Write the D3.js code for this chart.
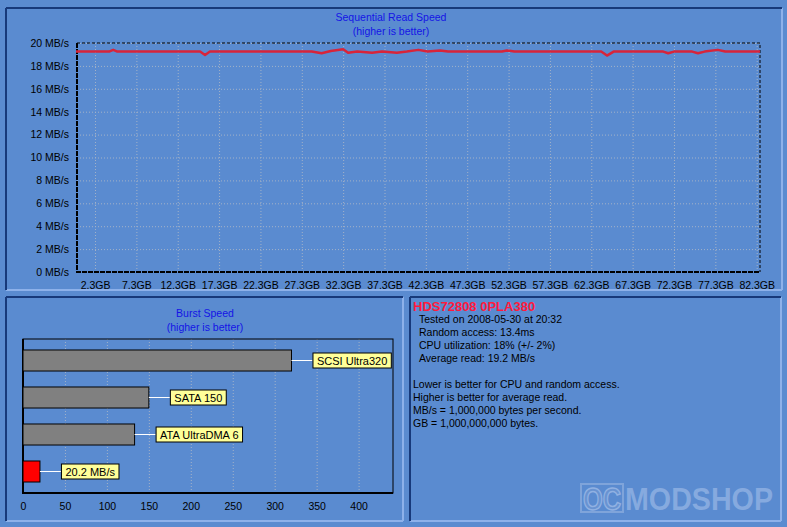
<!DOCTYPE html>
<html>
<head>
<meta charset="utf-8">
<script src="https://cdn.jsdelivr.net/npm/d3@7"></script>
<style>
  body { margin: 0; background: #5a8bd0; }
  svg { display: block; }
  text { font-family: "Liberation Sans", Arial, sans-serif; }
</style>
</head>
<body>
<div id="chart"></div>
<script>
// sequential read samples, position on disk (GB) and speed (MB/s)
const readGB = [0, 2, 4, 4.5, 5, 8, 12, 15, 15.6, 16.2, 20, 25, 28.5, 29.7, 30.8, 32.3, 32.9, 34, 35.8, 37, 38.8, 40, 41.4, 42.5, 44, 45, 50, 51.5, 52.1, 53, 58, 63.5, 64.2, 65, 68, 71, 71.6, 72.3, 74.5, 75.2, 76, 77.6, 78.5, 82.7]
const readMBs = [19.25, 19.25, 19.25, 19.4, 19.25, 19.25, 19.25, 19.25, 18.95, 19.25, 19.25, 19.25, 19.25, 19.1, 19.3, 19.45, 19.15, 19.25, 19.15, 19.25, 19.15, 19.25, 19.4, 19.25, 19.35, 19.25, 19.25, 19.25, 19.35, 19.25, 19.25, 19.25, 18.9, 19.25, 19.25, 19.25, 19.1, 19.25, 19.25, 19.1, 19.25, 19.4, 19.25, 19.25]
const readTicksGB = [2.3, 7.3, 12.3, 17.3, 22.3, 27.3, 32.3, 37.3, 42.3, 47.3, 52.3, 57.3, 62.3, 67.3, 72.3, 77.3, 82.3]
const readTicksMBs = [0, 2, 4, 6, 8, 10, 12, 14, 16, 18, 20]

// burst speed comparison
const burstLabels = ["SCSI Ultra320", "SATA 150", "ATA UltraDMA 6", "20.2 MB/s"]
const burstValues = [320, 150, 133, 20.2]
const burstColors = ["#808080", "#808080", "#808080", "#ff0000"]
const burstTicks = [0, 50, 100, 150, 200, 250, 300, 350, 400]

const infoTitle = "HDS72808 0PLA380"
const infoLines = [
  "Tested on 2008-05-30 at 20:32",
  "Random access: 13.4ms",
  "CPU utilization: 18% (+/- 2%)",
  "Average read: 19.2 MB/s"
]
const noteLines = [
  "Lower is better for CPU and random access.",
  "Higher is better for average read.",
  "MB/s = 1,000,000 bytes per second.",
  "GB = 1,000,000,000 bytes."
]

const width = 787
const height = 527
const fontSize = 10.5
const dark = "#17397a"
const light = "#8db1ea"
const titleBlue = "#1414e6"
const gridColor = "#a3b2c8"

const svg = d3.select("#chart").append("svg")
  .attr("width", width)
  .attr("height", height)

svg.append("rect").attr("width", width).attr("height", height).attr("fill", "#5a8bd0")

function panel(x, y, w, h) {
  const g = svg.append("g")
  g.append("line").attr("x1", x).attr("x2", x + w).attr("y1", y + h).attr("y2", y + h).attr("stroke", light).attr("stroke-width", 2)
  g.append("line").attr("x1", x + w).attr("x2", x + w).attr("y1", y).attr("y2", y + h).attr("stroke", light).attr("stroke-width", 2)
  g.append("line").attr("x1", x).attr("x2", x + w).attr("y1", y).attr("y2", y).attr("stroke", dark).attr("stroke-width", 2)
  g.append("line").attr("x1", x).attr("x2", x).attr("y1", y).attr("y2", y + h).attr("stroke", dark).attr("stroke-width", 2)
}

panel(6, 8, 776, 282)
panel(6, 297, 397, 224)
panel(410, 297, 371, 224)

function title(cx, y, lines) {
  lines.forEach((line, i) => {
    svg.append("text")
      .attr("x", cx)
      .attr("y", y + i * 14)
      .attr("text-anchor", "middle")
      .attr("font-size", fontSize)
      .attr("fill", titleBlue)
      .text(line)
  })
}

// ---- sequential read chart
const readPlot = {left: 77, right: 760, top: 43, bottom: 272}
const x = d3.scaleLinear().domain([0, 82.7]).range([76, readPlot.right])
const y = d3.scaleLinear().domain([0, 20]).range([readPlot.bottom, readPlot.top])

title(391, 21, ["Sequential Read Speed", "(higher is better)"])

svg.append("g")
  .call(d3.axisLeft(y).tickValues(readTicksMBs).tickSize(-(readPlot.right - readPlot.left)).tickFormat(""))
  .attr("transform", `translate(${readPlot.left},0)`)
  .call(g => g.select(".domain").remove())
  .call(g => g.selectAll("line").attr("stroke", gridColor).attr("stroke-dasharray", "1,2"))

svg.append("g")
  .attr("transform", `translate(0,${readPlot.bottom})`)
  .call(d3.axisBottom(x).tickValues(readTicksGB).tickSize(-(readPlot.bottom - readPlot.top)).tickFormat(""))
  .call(g => g.select(".domain").remove())
  .call(g => g.selectAll("line").attr("stroke", gridColor).attr("stroke-dasharray", "1,2"))

svg.append("g")
  .attr("transform", `translate(${readPlot.left},0)`)
  .call(d3.axisLeft(y).tickValues(readTicksMBs).tickSize(0).tickPadding(8).tickFormat(d => `${d} MB/s`))
  .call(g => g.select(".domain").remove())
  .call(g => g.selectAll("text").attr("fill", "#000").attr("font-size", fontSize).attr("font-family", "Liberation Sans, Arial, sans-serif"))

svg.append("g")
  .attr("transform", `translate(0,${readPlot.bottom})`)
  .call(d3.axisBottom(x).tickValues(readTicksGB).tickSize(0).tickPadding(10).tickFormat(d => `${d}GB`))
  .call(g => g.select(".domain").remove())
  .call(g => g.selectAll("text").attr("fill", "#000").attr("font-size", fontSize).attr("font-family", "Liberation Sans, Arial, sans-serif"))

// frame: dashed top/right, heavy left/bottom
svg.append("path")
  .attr("d", `M${readPlot.left},${readPlot.top}H${readPlot.right}V${readPlot.bottom}`)
  .attr("fill", "none").attr("stroke", "#000").attr("stroke-dasharray", "3,2")
svg.append("path")
  .attr("d", `M${readPlot.left},${readPlot.top}V${readPlot.bottom}H${readPlot.right}`)
  .attr("fill", "none").attr("stroke", "#000").attr("stroke-width", 2).attr("stroke-dasharray", "5,1")

const line = d3.line()
  .x((d, i) => x(readGB[i]))
  .y(d => y(d))

svg.append("path")
  .datum(readMBs)
  .attr("fill", "none")
  .attr("stroke", "#d8243a")
  .attr("stroke-width", 2.5)
  .attr("stroke-linejoin", "round")
  .attr("d", line)

// ---- burst speed chart
const burstPlot = {left: 23, right: 393, top: 339, bottom: 493}
const bx = d3.scaleLinear().domain([0, 441]).range([burstPlot.left, burstPlot.right])
const by = d3.scaleBand().domain(d3.range(burstLabels.length)).range([342, 490]).paddingInner(0.432).paddingOuter(0.216)

title(205, 317, ["Burst Speed", "(higher is better)"])

svg.append("g")
  .attr("transform", `translate(0,${burstPlot.bottom})`)
  .call(d3.axisBottom(bx).tickValues(burstTicks.slice(1)).tickSize(-(burstPlot.bottom - burstPlot.top)).tickFormat(""))
  .call(g => g.select(".domain").remove())
  .call(g => g.selectAll("line").attr("stroke", gridColor).attr("stroke-dasharray", "1,2"))

svg.append("rect")
  .attr("x", burstPlot.left).attr("y", burstPlot.top)
  .attr("width", burstPlot.right - burstPlot.left).attr("height", burstPlot.bottom - burstPlot.top)
  .attr("fill", "none").attr("stroke", "#000")
svg.append("path")
  .attr("d", `M${burstPlot.left},${burstPlot.top}V${burstPlot.bottom}H${burstPlot.right}`)
  .attr("fill", "none").attr("stroke", "#000").attr("stroke-width", 2)

svg.append("g")
  .attr("transform", `translate(0,${burstPlot.bottom})`)
  .call(d3.axisBottom(bx).tickValues(burstTicks).tickSize(0).tickPadding(10))
  .call(g => g.select(".domain").remove())
  .call(g => g.selectAll("text").attr("fill", "#000").attr("font-size", fontSize).attr("font-family", "Liberation Sans, Arial, sans-serif"))

const bars = svg.append("g")
burstValues.forEach((value, i) => {
  const top = by(i)
  const mid = top + by.bandwidth() / 2
  const end = bx(value)
  bars.append("rect")
    .attr("x", bx(0)).attr("y", top)
    .attr("width", end - bx(0)).attr("height", by.bandwidth())
    .attr("fill", burstColors[i]).attr("stroke", "#000")
  bars.append("line")
    .attr("x1", end).attr("x2", end + 21).attr("y1", mid).attr("y2", mid)
    .attr("stroke", "#fff")
  const box = bars.append("g")
  const label = box.append("text")
    .attr("x", end + 25.5).attr("y", mid + 4)
    .attr("font-size", fontSize + 0.5).attr("fill", "#000")
    .text(burstLabels[i])
  const w = label.node().getComputedTextLength()
  box.insert("rect", "text")
    .attr("x", end + 21.5).attr("y", mid - 7.5)
    .attr("width", w + 8).attr("height", 15)
    .attr("fill", "#ffff99").attr("stroke", "#000")
})

// ---- info panel
svg.append("text")
  .attr("x", 413).attr("y", 311)
  .attr("font-size", 13).attr("font-weight", "bold").attr("fill", "#ff1a3c")
  .text(infoTitle)

infoLines.forEach((t, i) => {
  svg.append("text").attr("x", 419).attr("y", 323 + i * 13).attr("font-size", fontSize).attr("fill", "#000").text(t)
})
noteLines.forEach((t, i) => {
  svg.append("text").attr("x", 413).attr("y", 388 + i * 13).attr("font-size", fontSize).attr("fill", "#000").text(t)
})

// watermark
const mark = svg.append("g").attr("opacity", 0.85)
mark.append("rect").attr("x", 581).attr("y", 484).attr("width", 42).attr("height", 28).attr("fill", "none").attr("stroke", "#86a9dc").attr("stroke-width", 2)
mark.append("text")
  .attr("x", 583).attr("y", 510)
  .attr("font-family", "DejaVu Sans Condensed, DejaVu Sans, sans-serif")
  .attr("font-weight", "bold").attr("font-size", 31)
  .attr("textLength", 38).attr("lengthAdjust", "spacingAndGlyphs")
  .attr("fill", "#6c95d2").attr("stroke", "#9ab8e6").attr("stroke-width", 1.5)
  .text("OC")
mark.append("text")
  .attr("x", 625).attr("y", 510)
  .attr("font-family", "DejaVu Sans Condensed, DejaVu Sans, sans-serif")
  .attr("font-weight", "bold").attr("font-size", 31)
  .attr("textLength", 148).attr("lengthAdjust", "spacingAndGlyphs")
  .attr("fill", "#8eb0e2")
  .text("MODSHOP")
</script>
</body>
</html>
